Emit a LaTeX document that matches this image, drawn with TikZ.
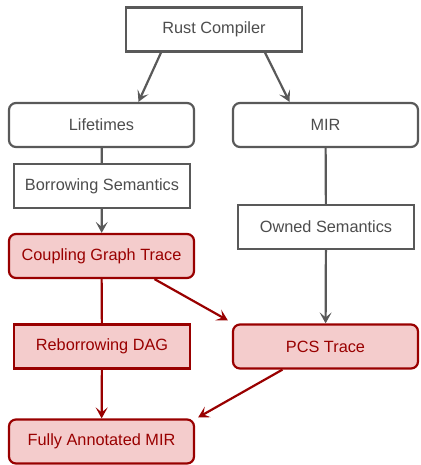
\documentclass[tikz,border=0pt]{standalone}
\usepackage{fontspec}
\setmainfont{Liberation Sans}
\usetikzlibrary{arrows.meta}

\definecolor{linegray}{RGB}{89,89,89}
\definecolor{textgray}{RGB}{77,77,77}
\definecolor{darkred}{RGB}{153,0,0}
\definecolor{pinkfill}{RGB}{244,204,204}

\begin{document}
\begin{tikzpicture}[
  x=1pt, y=-1pt,
  every node/.style={font=\fontsize{16.3}{19}\selectfont},
  graybox/.style={draw=linegray, line width=2.2pt, fill=white, text=textgray,
                  minimum width=176pt, minimum height=44pt, inner sep=0pt},
  grayround/.style={graybox, rounded corners=7pt, minimum width=185pt},
  redbox/.style={graybox, draw=darkred, fill=pinkfill, text=darkred},
  redround/.style={redbox, rounded corners=7pt, minimum width=185pt},
  arr/.style={-{Stealth[length=11pt, width=12pt, inset=5pt]}},
  grayline/.style={draw=linegray, line width=2.2pt},
  redline/.style={draw=darkred, line width=2.2pt}
]
\useasboundingbox (0,0) rectangle (420,465);

%% ---- Compiler inputs (gray) ----------------------------------------
\node[graybox]   (rust)   at (214,29.5)  {Rust Compiler};
\node[grayround] (lifet)  at (101.5,125) {Lifetimes};
\node[grayround] (mir)    at (325.5,125) {MIR};
\node[graybox]   (borrow) at (102,186)   {Borrowing Semantics};
\node[graybox]   (owned)  at (326,227)   {Owned Semantics};

%% ---- Traces (red) --------------------------------------------------
\node[redround] (coupling) at (101.5,256)   {Coupling Graph Trace};
\node[redbox]   (rebor)    at (102,346.5)   {Reborrowing DAG};
\node[redround] (pcs)      at (325.5,346.5) {PCS Trace};
\node[redround] (fam)      at (101.5,441.5) {Fully Annotated MIR};

%% ---- Gray connectors -----------------------------------------------
\draw[grayline, arr] ([xshift=-53pt]rust.south) -- ([xshift=37pt]lifet.north);
\draw[grayline, arr] ([xshift=51pt]rust.south) -- ([xshift=-36pt]mir.north);
\draw[grayline] (lifet) -- (borrow);
\draw[grayline, arr] (borrow) -- (coupling);
\draw[grayline] (mir) -- (owned);
\draw[grayline, arr] (owned) -- (pcs);

%% ---- Red connectors ------------------------------------------------
\draw[redline] (coupling) -- (rebor);
\draw[redline, arr] ([xshift=53pt]coupling.south)
      -- ([xshift=-4pt, yshift=3pt]pcs.north west);
\draw[redline, arr] (rebor) -- (fam);
\draw[redline, arr] ([xshift=-43pt]pcs.south)
      -- ([xshift=3pt, yshift=1pt]fam.north east);

\end{tikzpicture}
\end{document}
